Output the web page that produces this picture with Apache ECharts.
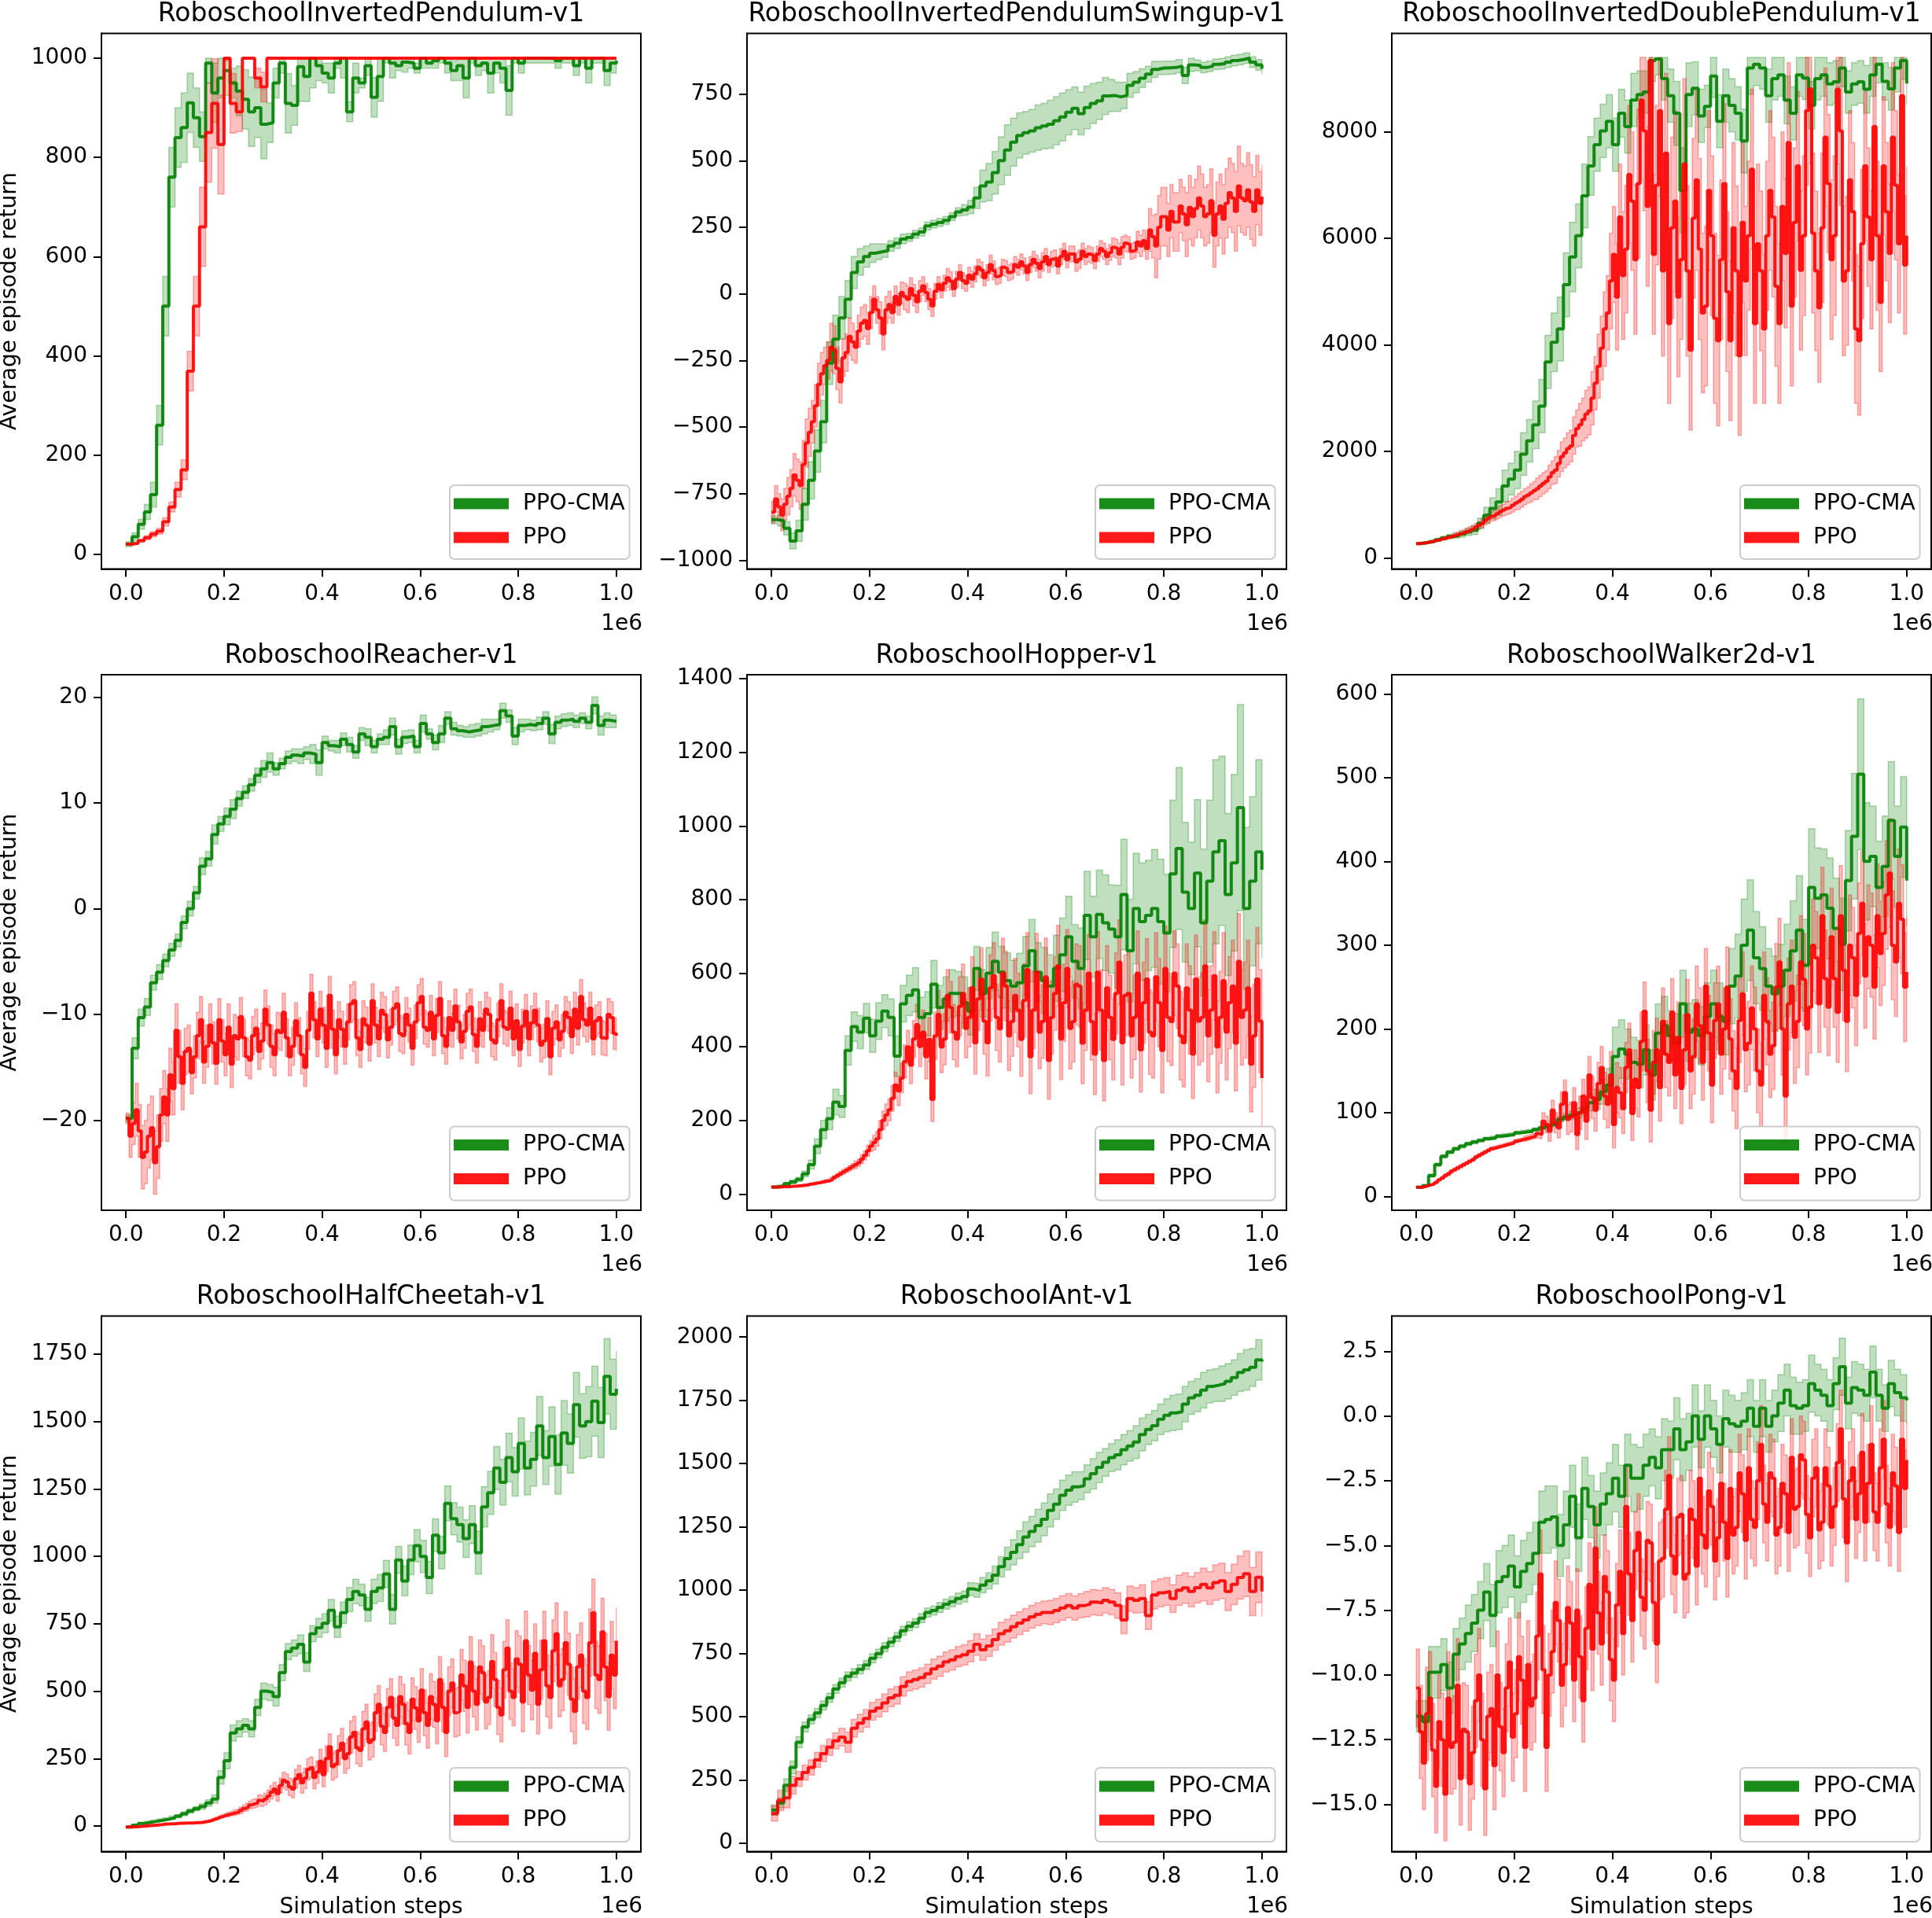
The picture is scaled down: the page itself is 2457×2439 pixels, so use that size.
<!DOCTYPE html>
<html>
<head>
<meta charset="utf-8">
<title>PPO-CMA vs PPO on Roboschool</title>
<script src="https://cdn.jsdelivr.net/npm/echarts@6.0.0/dist/echarts.min.js"></script>
<style>html,body{margin:0;padding:0;background:#fff;}</style>
</head>
<body>
<div id="main" style="width:2457px;height:2439px;"></div>
<script type="text/javascript">
// panel titles, tick values and ranges
var titles = ['RoboschoolInvertedPendulum-v1', 'RoboschoolInvertedPendulumSwingup-v1', 'RoboschoolInvertedDoublePendulum-v1',
  'RoboschoolReacher-v1', 'RoboschoolHopper-v1', 'RoboschoolWalker2d-v1',
  'RoboschoolHalfCheetah-v1', 'RoboschoolAnt-v1', 'RoboschoolPong-v1'];
var xTicks = [0, 200000, 400000, 600000, 800000, 1000000];
var yTicks = [
  [0, 200, 400, 600, 800, 1000],
  [-1000, -750, -500, -250, 0, 250, 500, 750],
  [0, 2000, 4000, 6000, 8000],
  [-20, -10, 0, 10, 20],
  [0, 200, 400, 600, 800, 1000, 1200, 1400],
  [0, 100, 200, 300, 400, 500, 600],
  [0, 250, 500, 750, 1000, 1250, 1500, 1750],
  [0, 250, 500, 750, 1000, 1250, 1500, 1750, 2000],
  [-15, -12.5, -10, -7.5, -5, -2.5, 0, 2.5]
];
var yMin = [-30, -1033, -208, -28.5, -44, -16.4, -95, -32, -16.82];
var yMax = [1050, 978, 9850, 22.1, 1411, 622.8, 1892, 2083, 3.86];
var bandCap = [1000, null, 9400, null, null, null, null, null, null];

// InvertedPendulum
var pendCma = [20,35,60,85,120,260,500,760,840,860,
  910,880,842,990,930,960,975,950,934,917,
  892,900,867,870,950,990,909,905,983,963,
  1000,985,970,960,990,1000,892,960,950,985,
  921,963,1000,990,985,992,990,980,1000,990,
  995,1000,990,975,985,960,1000,985,990,970,
  990,980,935,1000,990,1000,1000,1000,1000,1000,
  995,1000,1000,985,1000,980,1000,1000,975,990,
  995];
var pendCmaSd = [5,8,10,15,25,40,60,60,60,70,
  60,60,50,40,60,40,50,30,50,60,
  70,60,70,40,30,20,60,40,70,50,
  60,30,20,30,10,40,20,30,10,20,
  40,50,10,30,10,20,10,10,20,10,
  15,10,20,20,30,40,10,20,15,40,
  20,30,50,10,20,10,10,10,10,10,
  15,10,10,20,10,30,10,10,30,20,
  15];
var pendPpo = [20,22,27,33,40,46,65,95,130,170,
  369,500,660,850,909,826,1000,909,892,1000,
  1000,960,942,1000,1000,1000,1000,1000,1000,1000,
  1000,1000,1000,1000,1000,1000,1000,1000,1000,1000,
  1000,1000,1000,1000,1000,1000,1000,1000,1000,1000,
  1000,1000,1000,1000,1000,1000,1000,1000,1000,1000,
  1000,1000,1000,1000,1000,1000,1000,1000,1000,1000,
  1000,1000,1000,1000,1000,1000,1000,1000,1000,1000,
  1000];
var pendPpoSd = [1,2,3,4,5,6,8,10,15,20,
  40,60,80,100,90,100,5,60,40,0,
  0,20,30,0,0,0,0,0,0,0,
  0,0,0,0,0,0,0,0,0,0,
  0,0,0,0,0,0,0,0,0,0,
  0,0,0,0,0,0,0,0,0,0,
  0,0,0,0,0,0,0,0,0,0,
  0,0,0,0,0,0,0,0,0,0,
  0];

// InvertedPendulumSwingup
var swingCma = [-848,-852,-880,-928,-890,-790,-700,-590,-480,-260,
  -170,-90,-20,80,120,140,153,158,162,180,
  190,206,212,224,232,255,262,268,276,290,
  308,315,326,360,405,420,455,500,540,570,
  595,605,612,624,630,637,650,664,682,697,
  677,700,715,725,743,745,740,745,783,795,
  810,825,843,848,849,850,855,820,860,858,
  850,855,862,864,870,876,880,885,870,860,
  845];
var swingCmaSd = [15,20,25,30,40,60,70,80,80,80,
  90,80,70,60,50,40,35,30,25,20,
  20,18,15,15,15,15,15,15,15,15,
  15,20,25,40,60,70,80,90,95,90,
  85,80,80,85,85,90,90,90,85,80,
  80,80,75,70,70,60,55,50,45,40,
  35,30,30,25,25,25,25,30,25,20,
  20,20,20,20,20,20,20,20,20,20,
  20];
// PPO runs with heavy noise are read at twice the resolution (every 6250 steps)
var swingPpo = [-820,-770,-800,-830,-790,-760,-730,-680,-700,-720,-640,-560,-520,-480,-420,-340,-300,-270,-250,-200,
  -210,-280,-330,-240,-220,-160,-180,-200,-140,-110,-100,-130,-70,-20,-60,-90,-150,-60,-40,-70,
  -10,-40,5,-10,-20,20,-5,-30,10,30,5,-20,-45,10,35,15,40,60,48,20,
  55,80,50,40,70,55,75,100,90,60,80,110,88,65,70,100,95,80,85,110,
  100,120,105,80,110,130,115,95,120,140,110,130,135,105,140,160,128,150,150,120,
  130,160,140,150,145,125,150,170,160,140,155,175,170,150,175,190,185,160,165,195,
  180,200,170,240,215,180,250,290,290,240,310,270,270,330,300,260,325,290,320,360,
  330,290,300,350,220,300,330,280,340,380,360,310,405,360,350,390,345,310,390,340,
  365];
var swingPpoSd = [40,50,60,70,80,90,90,80,80,70,
  90,80,70,70,60,60,60,50,60,50,
  40,40,50,40,40,35,40,30,30,35,
  30,30,30,30,30,30,35,30,30,30,
  30,30,30,30,35,30,30,30,30,30,
  35,30,30,30,30,30,35,40,30,30,
  40,40,80,120,110,100,110,100,120,110,
  120,110,120,120,130,130,150,130,140,130,
  120];

// InvertedDoublePendulum
var dblCma = [270,290,310,340,370,400,420,450,490,520,
  650,800,930,1050,1350,1480,1650,1950,2200,2500,
  2850,3680,4050,4300,5130,5650,6050,6800,7360,7760,
  8020,8200,7760,8350,8100,8600,8700,8750,9340,9370,
  9000,8680,8350,6900,8700,8820,8300,8480,9050,8200,
  8680,8500,8350,7830,9200,9270,9200,8680,9000,9070,
  8600,8350,9070,9010,8500,9000,9070,8900,8940,9200,
  8750,8900,8940,8800,9070,9270,8950,8810,9200,9340,
  8910];
var dblCmaSd = [10,15,20,25,30,40,50,60,70,80,
  100,150,200,250,300,300,350,400,400,450,
  500,500,550,600,600,650,600,600,550,500,
  500,500,500,450,500,500,450,400,400,300,
  400,500,600,800,600,500,500,400,400,500,
  500,500,500,600,500,400,400,500,400,400,
  450,500,400,400,450,400,400,400,400,350,
  400,400,400,450,400,350,350,400,450,350,
  400];
var dblPpo = [270,275,280,290,300,315,330,345,360,375,390,405,420,440,460,480,500,525,550,580,
  610,650,700,740,780,800,830,870,900,930,950,990,1030,1060,1100,1150,1180,1220,1260,1300,
  1350,1400,1440,1520,1600,1650,1770,1900,1970,2050,2100,2300,2430,2500,2600,2700,2760,3000,3280,3600,
  3940,4300,4600,5200,5700,4900,6400,5300,5800,7200,6700,5600,7030,8600,8020,6600,9340,5700,7000,8400,
  5390,7600,4400,6200,6700,4900,5600,7400,5390,3900,6380,7100,5800,4600,4730,6900,6050,4500,4080,5600,
  7030,5000,4080,6200,5390,3800,6300,5200,6050,7300,4400,5900,5390,4300,6050,6900,6400,5100,4400,6600,
  5720,7800,4730,6300,7360,5400,6050,8400,8810,6100,5390,4700,6200,7900,7030,5600,6050,8800,8020,5200,
  5390,7100,6500,4300,4080,5900,7360,6400,5600,8100,6050,4800,7360,6500,5720,7900,7000,5900,8680,5500,
  6050];
var dblPpoSd = [10,10,15,20,25,30,35,40,50,60,
  70,80,90,100,110,120,130,150,150,170,
  200,200,220,250,280,300,350,400,450,500,
  600,700,900,1000,1200,1300,1400,1500,1500,1500,
  1600,1500,1700,1500,1600,1500,1700,1500,1500,1600,
  1500,1500,1600,1500,1400,1500,1500,1400,1500,1500,
  1400,1500,1400,1500,1400,1500,1400,1300,1500,1400,
  1400,1300,1400,1400,1300,1400,1300,1300,1400,1300,
  1300];

// Reacher
var reachCma = [-19.8,-13.2,-10.3,-9.3,-7,-6,-4.9,-3.9,-3,-1.3,
  0,1.5,4,4.7,7,8,8.7,9.4,10.4,11,
  11.7,12.6,13.2,13.8,13.2,13.7,14.3,14.5,14.4,14.7,
  14.6,13.8,15.7,15.4,15.3,16,15.5,14.8,16.5,16.2,
  15.3,16,16.2,17.2,15.3,16.2,16.3,15.3,17.5,16.5,
  15.7,16.5,18,17,16.8,16.7,16.8,16.9,17.2,17.3,
  17.4,18.7,18.2,16.3,17.3,17.4,17.3,17.5,18,16.5,
  17.6,17.8,17.9,17.7,18,17.6,19.2,17.3,17.8,17.7,
  17.7];
var reachCmaSd = [0.3,1.0,0.8,0.8,0.7,0.7,0.6,0.6,0.6,0.6,
  0.7,0.6,0.8,0.7,0.9,0.7,0.8,0.9,0.7,0.6,
  0.6,0.7,0.8,0.9,0.6,0.5,0.6,0.6,0.7,0.6,
  0.9,1.2,0.6,0.5,0.6,0.6,0.7,0.6,0.6,0.8,
  0.6,0.5,0.7,0.8,0.7,0.6,0.6,0.6,0.8,0.5,
  0.7,0.8,0.6,0.6,0.5,0.5,0.6,0.6,0.7,0.6,
  0.5,0.7,0.6,0.8,0.6,0.5,0.5,0.6,0.6,0.9,
  0.6,0.6,0.6,0.6,0.5,0.6,0.8,0.9,0.7,0.6,
  0.5];
var reachPpo = [-19.8,-21.5,-20.3,-19,-21,-23.5,-23,-21.5,-20.7,-24,-22.5,-19.5,-17.8,-19.5,-15.7,-17,-11.5,-14,-16.5,-13.5,
  -13.2,-15.5,-14,-12,-10.5,-14.5,-13,-11,-12.7,-14.6,-10.5,-12.5,-13.8,-11.2,-14.7,-12,-12.3,-10.2,-12.2,-14,
  -14.3,-12,-11.3,-13.5,-12.5,-9.5,-11,-13,-13.8,-11.5,-11.7,-9.8,-12.2,-14,-13,-10.6,-12,-13.8,-15,-11.5,
  -8,-10.5,-12.3,-9.5,-11,-13.2,-8.2,-11.4,-13.8,-10.5,-11.4,-13,-10.7,-9,-8.7,-12.2,-13.3,-10.4,-11,-12.8,
  -8.7,-11,-12.3,-9.6,-10,-12.4,-11.2,-9.4,-9,-11.8,-12,-10,-11,-13.2,-10.7,-8.9,-8.3,-11.2,-11.5,-9.8,
  -12.3,-10.1,-8.5,-12,-13,-10.3,-11.5,-9.2,-10.7,-12.6,-11.6,-9.7,-9.3,-11.9,-13,-10.4,-11.5,-9.5,-10,-12.4,
  -12.7,-10.5,-8.7,-11.2,-11.4,-9.4,-12.3,-10.6,-13.3,-11.1,-9.7,-12.3,-10.8,-9.6,-11,-12.9,-12.5,-10.4,-14,-11.3,
  -10.7,-12.4,-11.6,-9.8,-10.3,-12.1,-9.5,-11.3,-8.3,-10.5,-11,-9.4,-12.3,-10.6,-10.3,-12.2,-12.3,-10,-10.3,-11.8,
  -12];
var reachPpoSd = [0.5,2.0,2.5,3.0,3.0,3.0,2.5,2.5,2.5,2.5,
  2.2,2.0,2.2,2.0,2.0,2.0,2.0,2.2,2.0,1.8,
  1.8,1.8,1.7,1.8,2.0,1.7,1.8,1.8,1.7,1.8,
  1.8,1.7,1.7,1.8,1.8,1.7,1.7,1.8,1.7,1.7,
  1.6,1.7,1.7,1.7,1.6,1.7,1.6,1.6,1.7,1.6,
  1.6,1.6,1.7,1.6,1.6,1.6,1.7,1.6,1.6,1.6,
  1.6,1.6,1.6,1.6,1.6,1.6,1.6,1.6,1.6,1.7,
  1.6,1.6,1.5,1.6,1.6,1.6,1.5,1.5,1.6,1.5,
  1.5];

// Hopper
var hopCma = [19,22,28,33,40,55,80,130,175,205,
  250,238,390,455,440,478,430,470,497,480,
  375,517,540,555,480,490,570,507,530,545,
  545,520,497,613,545,600,632,603,580,565,
  574,620,661,603,580,565,613,650,699,632,
  613,757,699,760,737,720,699,814,661,776,
  740,757,776,740,709,870,939,820,776,872,
  737,850,930,960,814,900,1050,776,850,930,
  881];
var hopCmaSd = [2,3,4,5,6,8,12,20,25,30,
  35,30,40,40,45,40,45,50,45,50,
  55,50,55,60,55,60,65,60,60,65,
  60,70,65,60,65,70,80,70,75,70,
  80,80,85,80,90,85,90,100,110,100,
  110,120,110,120,130,120,140,150,140,150,
  160,150,160,170,160,200,220,190,180,200,
  200,220,250,230,220,240,280,220,230,250,
  240];
var hopPpo = [19,19,19,20,20,20,21,21,22,23,24,25,27,28,30,31,33,35,36,40,
  45,50,55,60,65,70,75,80,85,95,105,118,130,140,150,175,200,215,229,260,
  296,280,315,360,400,350,421,460,401,440,373,420,257,430,488,400,421,540,507,440,
  421,510,545,450,480,560,411,530,584,470,411,560,593,480,449,600,565,430,469,540,
  500,420,526,610,373,500,603,440,469,590,363,480,545,620,421,520,613,450,469,570,
  565,410,500,600,469,380,603,500,363,560,480,420,545,630,411,540,545,430,480,600,
  392,520,584,440,430,590,520,390,613,480,469,600,565,430,411,560,500,380,584,470,
  480,620,430,500,593,400,480,580,440,520,565,410,632,480,500,560,353,430,584,470,
  315];
var hopPpoSd = [1,1,1,1,1,2,2,3,3,4,
  5,6,7,8,10,12,15,20,25,30,
  35,40,45,50,55,60,60,65,70,70,
  75,80,80,85,85,90,90,90,95,95,
  100,100,100,105,100,105,100,110,105,110,
  110,110,105,110,110,115,110,115,110,115,
  115,110,115,120,115,120,115,120,120,120,
  120,125,120,125,130,125,130,130,130,140,
  140];

// Walker2d
var walkCma = [11,13,25,38,48,53,57,60,63,65,
  67,69,70,72,73,74,76,77,78,80,
  82,84,86,92,95,97,100,105,112,116,
  125,133,167,176,170,160,158,175,145,195,
  204,192,183,230,196,200,192,215,230,215,
  209,251,263,300,318,285,272,251,242,251,
  270,293,318,276,369,356,360,344,320,301,
  377,430,504,400,406,369,394,449,406,441,
  377];
var walkCmaSd = [1,1,2,2,2,2,2,2,2,2,
  2,2,2,2,2,2,2,2,2,2,
  2,3,3,3,4,5,6,8,10,12,
  15,20,35,35,30,30,28,30,30,35,
  35,30,35,40,35,35,35,40,40,40,
  40,45,50,55,60,55,50,45,45,50,
  55,60,65,55,70,60,55,60,60,55,
  60,75,90,70,60,55,60,70,60,60,
  55];
var walkPpo = [11,11,12,13,14,15,17,20,22,25,27,30,32,34,36,38,40,42,44,47,
  49,51,53,55,57,58,59,60,61,62,63,64,66,67,68,69,70,71,72,75,
  74,90,86,78,103,88,82,110,124,92,95,112,74,100,120,90,145,118,103,135,
  154,120,110,145,86,130,124,105,154,175,99,140,130,185,221,150,103,160,175,130,
  209,170,160,220,145,190,129,175,217,150,167,230,204,160,251,195,133,210,230,170,
  200,250,188,150,129,210,242,175,183,225,200,150,133,240,209,170,180,250,280,200,
  120,230,251,190,209,280,259,200,226,300,285,230,335,260,226,310,260,220,335,270,
  209,300,285,240,314,350,263,310,300,250,335,290,314,360,386,300,280,350,331,250,
  268];
var walkPpoSd = [1,1,1,1,1,2,2,2,2,2,
  2,2,2,2,2,2,2,2,3,3,
  5,10,12,12,15,18,18,20,22,25,
  25,28,28,30,30,32,35,35,38,38,
  40,40,40,42,42,45,45,45,45,45,
  48,48,48,50,50,50,50,52,52,52,
  55,55,55,55,55,55,58,58,58,60,
  60,60,60,62,62,62,62,65,65,65,
  65];

// HalfCheetah
var cheetahCma = [-4,3,9,13,17,21,25,30,36,45,
  55,64,72,85,100,180,242,345,360,373,
  360,440,500,495,480,569,647,660,674,608,
  713,735,752,800,739,791,840,870,857,804,
  870,883,935,804,987,909,987,1040,1000,922,
  1079,1014,1197,1140,1118,1066,1118,1014,1184,1236,
  1328,1275,1367,1314,1419,1328,1360,1484,1367,1445,
  1341,1458,1419,1563,1484,1500,1576,1497,1668,1602,
  1622];
var cheetahCmaSd = [2,3,3,4,4,5,5,6,6,7,
  8,8,10,12,15,25,30,30,30,25,
  30,30,30,30,35,30,30,30,35,35,
  30,35,35,40,40,40,45,45,40,45,
  45,50,50,55,50,55,55,60,60,60,
  60,60,65,60,65,70,70,80,75,80,
  80,85,90,90,95,100,100,110,100,110,
  110,120,110,120,120,130,130,130,140,130,
  140];
var cheetahPpo = [-4,-4,-3,-3,-2,-1,0,1,2,3,4,5,7,7,8,8,9,10,10,11,
  11,11,12,12,13,15,17,20,24,28,33,36,40,43,46,49,52,58,65,70,
  78,82,85,95,92,100,111,125,137,120,150,170,163,145,137,175,190,160,177,210,
  216,180,200,240,190,250,294,220,229,280,307,250,268,330,347,290,281,360,386,310,
  320,420,451,370,347,440,477,400,373,480,451,380,347,470,438,390,504,420,373,480,
  451,390,543,440,347,500,530,420,425,560,520,440,608,500,451,590,569,460,477,610,
  543,440,412,580,660,500,477,620,600,460,687,560,504,640,451,580,687,520,477,650,
  713,520,543,680,600,470,425,590,634,500,477,680,791,560,543,720,590,480,634,560,
  687];
var cheetahPpoSd = [1,1,1,1,1,1,1,1,2,2,
  2,2,3,3,4,5,6,8,10,12,
  14,16,20,22,25,28,30,32,35,38,
  40,42,45,48,50,55,55,60,60,65,
  65,70,70,70,75,75,80,80,80,85,
  85,85,90,90,90,95,95,95,100,100,
  100,100,105,105,105,110,110,110,110,115,
  115,115,115,120,120,120,125,125,125,125,
  125];

// Ant
var antCma = [132,160,230,300,400,460,490,515,545,575,
  610,635,660,673,688,705,731,750,775,795,
  815,840,858,870,890,912,920,932,945,955,
  967,975,1005,1000,1020,1037,1060,1093,1125,1150,
  1180,1210,1232,1255,1280,1315,1340,1375,1395,1408,
  1413,1440,1460,1485,1505,1524,1535,1555,1570,1585,
  1615,1635,1650,1675,1691,1700,1705,1735,1760,1770,
  1790,1805,1810,1816,1825,1840,1860,1870,1880,1910,
  1903];
var antCmaSd = [20,20,25,25,22,20,18,18,18,18,
  18,18,18,18,18,18,18,18,18,18,
  18,18,18,18,18,18,18,20,20,20,
  22,22,25,28,30,32,35,40,45,50,
  55,60,60,65,65,65,60,60,60,60,
  55,55,60,60,55,55,60,60,60,65,
  65,60,60,60,65,70,70,70,65,65,
  70,65,65,70,70,70,75,80,75,80,
  75];
var antPpo = [118,170,180,230,255,280,300,330,355,380,
  405,420,400,455,475,494,522,535,555,575,
  585,620,640,647,655,670,689,700,717,725,
  738,745,759,786,765,780,805,828,840,856,
  870,883,895,905,912,912,920,930,939,930,
  939,945,953,950,960,953,940,883,967,960,
  967,900,981,990,995,967,1000,1009,995,1010,
  1023,1009,1030,1037,995,1023,1050,1065,995,1051,
  995];
var antPpoSd = [30,40,40,35,30,30,30,30,32,32,
  32,35,40,35,35,35,35,35,35,35,
  35,38,38,38,38,38,40,40,40,40,
  40,40,42,42,42,42,42,45,45,45,
  45,45,45,45,45,48,48,48,48,48,
  48,50,50,50,50,50,50,55,50,50,
  55,55,55,55,55,55,60,60,60,60,
  65,65,70,70,75,80,85,90,95,100,
  100];

// Pong
var pongCma = [-11.6,-11.8,-9.9,-9.9,-9.6,-10.5,-9.2,-8.8,-8.4,-8.0,
  -7.5,-6.8,-7.7,-6.4,-6.2,-5.8,-6.6,-6.0,-5.7,-5.3,
  -4.1,-4.0,-3.9,-5.0,-4.2,-3.1,-4.7,-2.8,-3.5,-4.2,
  -3.4,-3.0,-2.4,-3.1,-1.9,-2.4,-2.4,-1.9,-1.6,-2.0,
  -1.3,-1.3,-0.5,-1.3,-1.0,0.0,-0.9,0.0,-0.5,-1.1,
  -0.1,-0.3,-0.4,-0.2,0.3,-0.4,0.3,-0.4,0.0,0.5,
  1.0,0.4,0.3,0.4,1.25,1.0,0.8,0.4,1.25,1.9,
  0.5,1.1,1.0,0.8,1.7,0.8,0.3,1.25,0.9,0.7,
  0.6];
var pongCmaSd = [0.6,0.8,1.0,1.0,1.0,1.0,1.0,1.0,1.1,1.1,
  1.1,1.1,1.2,1.2,1.2,1.2,1.2,1.2,1.2,1.2,
  1.2,1.3,1.2,1.2,1.3,1.2,1.3,1.2,1.2,1.3,
  1.2,1.2,1.3,1.2,1.2,1.3,1.2,1.2,1.1,1.2,
  1.2,1.1,1.2,1.2,1.1,1.2,1.1,1.2,1.1,1.1,
  1.1,1.1,1.0,1.1,1.1,1.0,1.1,1.0,1.0,1.1,
  1.0,1.1,1.0,1.0,1.1,1.0,1.0,1.0,1.0,1.1,
  1.0,1.0,1.0,1.0,1.0,1.0,0.9,0.9,0.9,0.9,
  0.9];
var pongPpo = [-10.5,-12.2,-13.4,-11.5,-10.9,-12.9,-14.3,-11.8,-12.5,-14.6,-10.9,-12.8,-12.6,-10.4,-14.0,-12.1,-12.2,-14.2,-13.0,-11.0,
  -10.0,-12.5,-14.4,-11.6,-11.3,-13.5,-10.0,-12.0,-13.0,-10.5,-9.5,-12.4,-11.5,-9.3,-10.2,-12.8,-9.6,-11.2,-10.9,-8.5,
  -6.1,-9.8,-12.8,-10.0,-9.1,-7.2,-7.9,-10.4,-9.6,-7.4,-8.0,-10.2,-7.5,-9.3,-11.0,-8.2,-6.5,-9.0,-5.1,-7.6,
  -8.8,-6.2,-6.8,-9.4,-10.2,-7.3,-6.0,-8.4,-3.5,-6.1,-7.9,-5.2,-4.5,-7.0,-7.5,-4.8,-4.9,-7.2,-8.8,-5.6,
  -5.5,-3.6,-2.3,-5.4,-6.1,-3.9,-3.8,-6.3,-6.1,-3.6,-4.0,-5.8,-2.4,-4.6,-5.1,-2.9,-3.5,-5.6,-4.7,-2.6,
  -4.1,-5.5,-2.8,-4.6,-4.3,-2.2,-3.0,-4.8,-2.0,-4.0,-4.3,-2.5,-1.1,-3.4,-4.1,-2.2,-2.4,-4.6,-4.3,-2.6,
  -3.0,-4.5,-1.6,-3.6,-3.5,-1.5,-1.7,-3.8,-4.7,-2.4,-2.0,-4.4,-4.1,-2.0,-2.7,-4.3,-3.5,-1.8,-0.5,-3.2,
  -4.9,-2.5,-2.0,-4.0,-3.0,-1.4,-4.1,-2.6,-1.1,-3.7,-4.1,-2.0,-0.9,-3.4,-4.3,-2.2,-2.7,-4.5,-0.9,-2.8,
  -1.7];
var pongPpoSd = [1.5,1.8,1.8,1.8,1.8,1.8,1.8,1.8,1.8,1.8,
  1.8,1.8,1.7,1.7,1.7,1.7,1.7,1.7,1.7,1.7,
  1.7,1.7,1.6,1.6,1.6,1.6,1.6,1.6,1.6,1.6,
  1.6,1.6,1.6,1.6,1.6,1.6,1.5,1.5,1.5,1.5,
  1.5,1.5,1.5,1.5,1.5,1.5,1.5,1.5,1.5,1.5,
  1.5,1.5,1.5,1.5,1.5,1.5,1.5,1.5,1.5,1.5,
  1.5,1.5,1.5,1.5,1.5,1.5,1.5,1.5,1.5,1.5,
  1.5,1.5,1.5,1.5,1.5,1.5,1.5,1.5,1.5,1.5,
  1.5];

var cmaRuns = [pendCma, swingCma, dblCma, reachCma, hopCma, walkCma, cheetahCma, antCma, pongCma];
var cmaSds = [pendCmaSd, swingCmaSd, dblCmaSd, reachCmaSd, hopCmaSd, walkCmaSd, cheetahCmaSd, antCmaSd, pongCmaSd];
var ppoRuns = [pendPpo, swingPpo, dblPpo, reachPpo, hopPpo, walkPpo, cheetahPpo, antPpo, pongPpo];
var ppoSds = [pendPpoSd, swingPpoSd, dblPpoSd, reachPpoSd, hopPpoSd, walkPpoSd, cheetahPpoSd, antPpoSd, pongPpoSd];

var TOTAL_STEPS = 1000000;
// x position (simulation step) of sample i in a run of n evenly spaced evaluations
function stepAt(i, n) { return i * TOTAL_STEPS / (n - 1); }

var FONT = 'DejaVu Sans';
var GREEN = 'rgba(0,128,0,0.9)', GREEN_FILL = 'rgba(0,128,0,0.25)', GREEN_EDGE = 'rgba(0,128,0,0.3)';
var RED = 'rgba(255,0,0,0.9)', RED_FILL = 'rgba(255,0,0,0.25)', RED_EDGE = 'rgba(255,0,0,0.3)';

var colLeft = [129, 950, 1770];
var rowTop = [42.5, 858, 1673.5];
var W = 686, H = 681;

function minus(str) { return str.replace('-', '\u2212'); }

// shaded band (mean +/- spread) drawn as one stepped polygon through the axis scales
function bandSeries(k, mean, sd, cap, edge, fill, tag) {
  var rows = [], n = mean.length;
  for (var i = 0; i < n; i++) {
    var spread = sd[Math.round(i * (sd.length - 1) / (n - 1))];
    var h = mean[i] + spread;
    if (cap !== null && h > cap) h = cap;
    rows.push([stepAt(i, n), mean[i] - spread, h]);
  }
  return {
    type: 'custom', name: tag + ' band', xAxisIndex: k, yAxisIndex: k, data: rows,
    encode: { x: 0, y: [1, 2] }, silent: true, clip: true,
    renderItem: function (params, api) {
      if (params.dataIndex !== 0) return null;
      var top = [], bottom = [];
      for (var i = 0; i < rows.length; i++) {
        var xa = rows[i][0], xb = i + 1 < rows.length ? rows[i + 1][0] : rows[i][0];
        top.push(api.coord([xa, rows[i][2]]), api.coord([xb, rows[i][2]]));
        bottom.push(api.coord([xa, rows[i][1]]), api.coord([xb, rows[i][1]]));
      }
      return {
        type: 'polygon',
        shape: { points: top.concat(bottom.reverse()) },
        style: { fill: fill, stroke: edge, lineWidth: 1.5 }
      };
    }
  };
}

function meanSeries(k, mean, name, color) {
  var pts = [];
  for (var i = 0; i < mean.length; i++) pts.push([stepAt(i, mean.length), mean[i]]);
  return {
    type: 'line', name: name, xAxisIndex: k, yAxisIndex: k, data: pts, step: 'end',
    symbol: 'none', silent: true, lineStyle: { color: color, width: 4 }, itemStyle: { color: color }
  };
}

var grids = [], xAxes = [], yAxes = [], series = [], legends = [], texts = [];
for (var k = 0; k < 9; k++) {
  var r = Math.floor(k / 3), c = k % 3;
  var gl = colLeft[c], gt = rowTop[r];
  grids.push({ left: gl, top: gt, width: W, height: H, show: true, borderColor: '#000', borderWidth: 2,
    backgroundColor: 'transparent', containLabel: false, outerBoundsMode: 'none' });

  xAxes.push({
    type: 'value', gridIndex: k, min: -50000, max: 1050000,
    axisLine: { show: true, onZero: false, lineStyle: { color: '#000', width: 2 } },
    axisTick: { show: true, length: 10, lineStyle: { color: '#000', width: 2 }, customValues: xTicks },
    axisLabel: { customValues: xTicks, margin: 18, fontSize: 28, fontFamily: FONT, color: '#000',
      formatter: function (v) { return (v / 1e6).toFixed(1); } },
    splitLine: { show: false },
    name: r === 2 ? 'Simulation steps' : '', nameLocation: 'middle', nameGap: 57,
    nameTextStyle: { fontSize: 28, fontFamily: FONT, color: '#000', lineHeight: 28 }
  });

  (function (k) {
    yAxes.push({
      type: 'value', gridIndex: k, min: yMin[k], max: yMax[k],
      axisLine: { show: true, onZero: false, lineStyle: { color: '#000', width: 2 } },
      axisTick: { show: true, length: 10, lineStyle: { color: '#000', width: 2 }, customValues: yTicks[k] },
      axisLabel: { customValues: yTicks[k], margin: 18, fontSize: 28, fontFamily: FONT, color: '#000',
        formatter: function (v) { return minus(k === 8 ? v.toFixed(1) : String(v)); } },
      splitLine: { show: false },
      name: c === 0 ? 'Average episode return' : '', nameLocation: 'middle', nameGap: 102, nameRotate: 90,
      nameTextStyle: { fontSize: 28, fontFamily: FONT, color: '#000', lineHeight: 28 }
    });
  })(k);

  series.push(bandSeries(k, cmaRuns[k], cmaSds[k], bandCap[k], GREEN_EDGE, GREEN_FILL, 'cma'));
  series.push(meanSeries(k, cmaRuns[k], 'PPO-CMA', GREEN));
  series.push(bandSeries(k, ppoRuns[k], ppoSds[k], bandCap[k], RED_EDGE, RED_FILL, 'ppo'));
  series.push(meanSeries(k, ppoRuns[k], 'PPO', RED));

  legends.push({
    left: gl + 443, top: gt + 574.5, orient: 'vertical', selectedMode: false,
    data: ['PPO-CMA', 'PPO'], icon: 'rect', itemWidth: 70, itemHeight: 14, itemGap: 14,
    itemStyle: { borderWidth: 0 },
    padding: [9, 6, 13, 5], backgroundColor: 'rgba(255,255,255,0.8)',
    borderColor: '#cccccc', borderWidth: 2, borderRadius: 6,
    textStyle: { fontSize: 28, lineHeight: 29, fontFamily: FONT, color: '#000', padding: [0, 0, 0, 13] }
  });

  texts.push({ type: 'text', x: gl + W / 2, y: gt - 24, silent: true,
    style: { text: titles[k], fill: '#000', fontSize: 33, fontFamily: FONT, align: 'center', verticalAlign: 'middle' } });
  texts.push({ type: 'text', x: gl + W + 2, y: gt + H + 70, silent: true,
    style: { text: '1e6', fill: '#000', fontSize: 28, fontFamily: FONT, align: 'right', verticalAlign: 'middle' } });
}

var myChart = echarts.init(document.getElementById('main'));
myChart.setOption({
  animation: false,
  backgroundColor: '#fff',
  textStyle: { fontFamily: FONT },
  grid: grids,
  xAxis: xAxes,
  yAxis: yAxes,
  legend: legends,
  graphic: texts,
  series: series
});
</script>
</body>
</html>
